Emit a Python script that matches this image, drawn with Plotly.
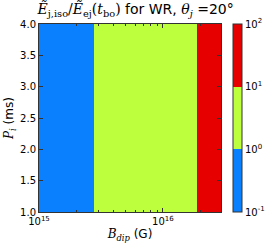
import plotly.graph_objects as go
import numpy as np

# Band edges in B_dip (G) where the energy-ratio class changes
b_dip_edges = [1.0e15, 2.78e15, 1.88e16, 2.94e16]
p_i_edges = [1.0, 4.0]
# representative ratio E_j,iso / E_ej(t_bo) in each band
ratio_bands = [0.3, 3.0, 30.0]
cbar_ticks = [0.1, 1, 10, 100]
cbar_labels = ["10<sup>-1</sup>", "10<sup>0</sup>", "10<sup>1</sup>", "10<sup>2</sup>"]

blue, green, red = "#0a80ff", "#bdff3c", "#e60000"
colorscale = [[0, blue], [1/3, blue], [1/3, green], [2/3, green], [2/3, red], [1, red]]

z = [[np.log10(v) for v in ratio_bands]]

SERIF = "<span style='font-family:DejaVu Serif'>{}</span>"

title_text = (SERIF.format("<i>Ẽ</i><sub>j,iso</sub>/<i>Ẽ</i><sub>ej</sub>(<i>t</i><sub>bo</sub>)")
              + " for WR, " + SERIF.format("<i>θ<sub>j</sub></i>") + " =20°")

fig = go.Figure(go.Heatmap(
    x=b_dip_edges, y=p_i_edges, z=z,
    zmin=np.log10(cbar_ticks[0]), zmax=np.log10(cbar_ticks[-1]),
    colorscale=colorscale,
    colorbar=dict(
        tickvals=[np.log10(t) for t in cbar_ticks], ticktext=cbar_labels,
        thickness=9, len=1, lenmode="fraction", y=0.5, yanchor="middle",
        x=1.066, xanchor="left", xpad=0, ypad=0,
        outlinecolor="#333", outlinewidth=1,
        ticks="", ticklabelposition="outside",
        tickfont=dict(size=10, color="black", family="DejaVu Sans"),
    ),
    hoverinfo="skip",
))

fig.update_layout(
    width=266, height=251,
    margin=dict(l=39, r=45, t=24, b=39, autoexpand=False),
    paper_bgcolor="white", plot_bgcolor="white",
    font=dict(family="DejaVu Sans", color="black", size=10),
    title=dict(
        text=title_text,
        x=0.51, xanchor="center", y=0.962, yanchor="middle",
        font=dict(size=14, family="DejaVu Sans", color="black"),
    ),
    xaxis=dict(
        type="log", range=[15, np.log10(b_dip_edges[-1])],
        tickvals=[1e15, 1e16], ticktext=["10<sup>15</sup>", "10<sup>16</sup>"],
        ticks="inside", ticklen=4, tickcolor="#333",
        minor=dict(ticks="inside", ticklen=2, tickcolor="#333",
                   tickvals=[k * 10**e for e in (15, 16) for k in range(2, 10) if k * 10**e < b_dip_edges[-1]]),
        showline=True, linecolor="#333", mirror="ticks", showgrid=False, zeroline=False,
        title=dict(text=SERIF.format("<i>B<sub>dip</sub></i>") + " (G)", font=dict(size=12), standoff=2),
        tickfont=dict(size=10),
    ),
    yaxis=dict(
        range=[1.0, 4.0], tickvals=[1.0, 1.5, 2.0, 2.5, 3.0, 3.5, 4.0],
        ticktext=["1.0", "1.5", "2.0", "2.5", "3.0", "3.5", "4.0"],
        ticks="inside", ticklen=4, tickcolor="#333",
        showline=True, linecolor="#333", mirror="ticks", showgrid=False, zeroline=False,
        title=dict(text=SERIF.format("<i>P<sub>i</sub></i>") + " (ms)", font=dict(size=12), standoff=3),
        tickfont=dict(size=10),
    ),
)

fig.write_html("out.html", config={"displayModeBar": False},
               post_script="document.body.style.margin='0';")
